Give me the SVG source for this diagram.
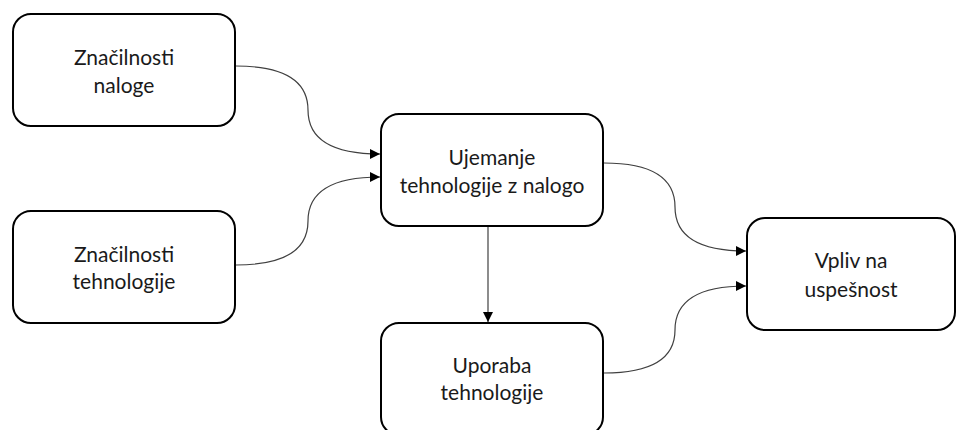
<svg xmlns="http://www.w3.org/2000/svg" width="958" height="430" viewBox="0 0 958 430">
  <style>
    .box { fill: #ffffff; stroke: #000000; stroke-width: 2; }
    .label { font-family: "Lato", "Open Sans", "Liberation Sans", sans-serif; font-size: 21px; fill: #1a1a1a; text-anchor: middle; }
    .link { fill: none; stroke: #404040; stroke-width: 1.2; marker-end: url(#arrow); }
  </style>
  <defs>
    <marker id="arrow" viewBox="0 0 10 10" refX="10" refY="5" markerWidth="11" markerHeight="10" markerUnits="userSpaceOnUse" orient="auto">
      <path d="M0,0 L10,5 L0,10 Z" fill="#000000"/>
    </marker>
  </defs>
  <rect width="958" height="430" fill="#ffffff"/>

  <g id="connectors">
    <path class="link" d="M236,66 Q308,66 308,110 Q308,154 380,154"/>
    <path class="link" d="M236,265 Q308,265 308,221 Q308,177 380,177"/>
    <path class="link" d="M604,163 Q675,163 675,207 Q675,251 746,251"/>
    <path class="link" d="M604,373 Q675,373 675,330 Q675,286 746,286"/>
    <path class="link" d="M488,227 L488,322"/>
  </g>

  <g id="znacilnosti-naloge">
    <rect class="box" x="13" y="14" width="222" height="112" rx="18"/>
    <text class="label" x="124" y="65">Značilnosti</text>
    <text class="label" x="124" y="93">naloge</text>
  </g>

  <g id="znacilnosti-tehnologije">
    <rect class="box" x="13" y="211" width="222" height="112" rx="18"/>
    <text class="label" x="124" y="262">Značilnosti</text>
    <text class="label" x="124" y="289">tehnologije</text>
  </g>

  <g id="ujemanje">
    <rect class="box" x="381" y="114" width="222" height="112" rx="18"/>
    <text class="label" x="492" y="165">Ujemanje</text>
    <text class="label" x="492" y="193">tehnologije z nalogo</text>
  </g>

  <g id="uporaba">
    <rect class="box" x="381" y="323" width="222" height="112" rx="18"/>
    <text class="label" x="492" y="373">Uporaba</text>
    <text class="label" x="492" y="400">tehnologije</text>
  </g>

  <g id="vpliv">
    <rect class="box" x="747" y="218" width="208" height="112" rx="18"/>
    <text class="label" x="851" y="268">Vpliv na</text>
    <text class="label" x="851" y="297">uspešnost</text>
  </g>
</svg>
